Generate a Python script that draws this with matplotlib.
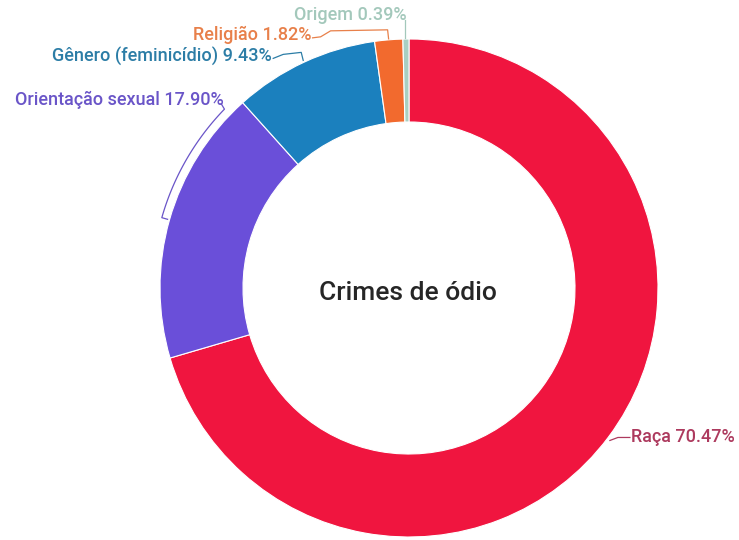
import numpy as np
import matplotlib
matplotlib.use("Agg")
import matplotlib.pyplot as plt

# data (clockwise from the top)
labels = ["Raça", "Orientação sexual", "Gênero (feminicídio)", "Religião", "Origem"]
shares = [70.47, 17.90, 9.43, 1.82, 0.39]
slice_colors = ["#F0153F", "#6A4FD9", "#1B80BE", "#F26A2E", "#A9CFC2"]
text_colors = ["#AD3A5E", "#6A55C8", "#2C7DA6", "#E8804A", "#A3C8BB"]
title = "Crimes de ódio"

W, H = 739, 540
cx, cy, R = 409, H - 288, 249
ring = 83

plt.rcParams['font.family'] = ['Roboto', 'DejaVu Sans']

fig = plt.figure(figsize=(W / 100, H / 100), dpi=100)
ax = fig.add_axes([0, 0, 1, 1])

wedges, _ = ax.pie(shares, colors=slice_colors, startangle=90, counterclock=False,
                   radius=R, center=(cx, cy),
                   wedgeprops=dict(width=ring, edgecolor="white", linewidth=0.8))
ax.set_xlim(0, W)
ax.set_ylim(0, H)
ax.set_aspect("equal")
ax.axis("off")

ax.text(cx - 1, H - 293, title, ha="center", va="center", fontsize=19,
        fontweight="medium", color="#262626")


def pt(ang, r):
    a = np.radians(ang)
    return cx + r * np.cos(a), cy + r * np.sin(a)


mids = [(w.theta1 + w.theta2) / 2 for w in wedges]
lw = 0.9
fs = 13

# Raça
x0, y0 = pt(mids[0], R + 2)
ax.plot([x0, x0 + 8, x0 + 20], [y0 - 2, y0 + 1, y0 + 1], color=text_colors[0], lw=lw)
ax.text(x0 + 21, y0 + 1, f"{labels[0]} {shares[0]:.2f}%", color=text_colors[0],
        fontsize=fs, fontweight="medium", ha="left", va="center")

# Orientação sexual: arc hugging the slice
angs = np.linspace(mids[1], min(wedges[1].theta1, wedges[1].theta2) + 4, 40)
ax_, ay_ = pt(angs, R + 8)
x1, y1 = pt(mids[1], R + 2)
ax.plot(np.r_[x1, ax_, ax_[-1] - 3], np.r_[y1, ay_, ay_[-1] + 5], color=text_colors[1], lw=lw)
ax.text(ax_[-1] - 1, ay_[-1] + 9, f"{labels[1]} {shares[1]:.2f}%", color=text_colors[1],
        fontsize=fs, fontweight="medium", ha="right", va="center")

# Gênero
x2, y2 = pt(mids[2], R + 2)
ax.plot([x2, x2 - 2, x2 - 20, x2 - 30], [y2, y2 + 8, y2 + 6, y2 + 2], color=text_colors[2], lw=lw)
ax.text(x2 - 31, y2 + 4, f"{labels[2]} {shares[2]:.2f}%", color=text_colors[2],
        fontsize=fs, fontweight="medium", ha="right", va="center")

# Religião
x3, y3 = pt(mids[3], R + 1)
ax.plot([x3, x3 - 1, x3 - 58, x3 - 68, x3 - 76], [y3, y3 + 9, y3 + 8, y3 + 2, y3 + 1],
        color=text_colors[3], lw=lw)
ax.text(x3 - 77, y3 + 4, f"{labels[3]} {shares[3]:.2f}%", color=text_colors[3],
        fontsize=fs, fontweight="medium", ha="right", va="center")

# Origem
x4, y4 = pt(mids[4], R + 1)
ax.plot([x4 - 1, x4 - 1], [y4, y4 + 18], color=text_colors[4], lw=lw)
ax.text(x4 + 1, y4 + 23, f"{labels[4]} {shares[4]:.2f}%", color=text_colors[4],
        fontsize=fs, fontweight="medium", ha="right", va="center")

fig.savefig("out.png", dpi=100, facecolor="white")
